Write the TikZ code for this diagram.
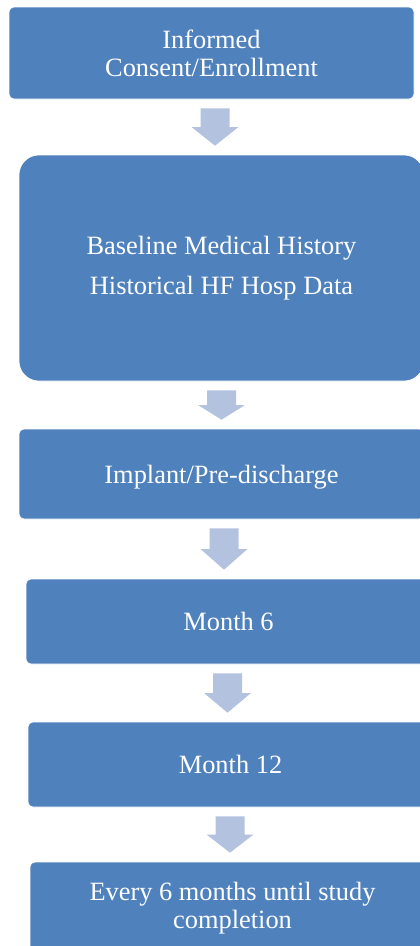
\documentclass[tikz,border=0pt]{standalone}
\usepackage{fontspec}
\setmainfont{Liberation Serif}
\usetikzlibrary{calc}
\definecolor{boxblue}{HTML}{4F81BD}
\definecolor{arrowblue}{HTML}{B3C3DF}
\newcommand{\blockarrow}[3]{%
  \fill[arrowfill] let \p1=(#1.south), \p2=(#2.north),
    \n1={\y1-9pt}, \n2={\y2+9pt}, \n3={(\y1+\y2)/2} in
    ({#3pt-14.5pt},\n1) -- ({#3pt+14.5pt},\n1) -- ({#3pt+14.5pt},\n3) --
    ({#3pt+23.5pt},\n3) -- ({#3pt},\n2) -- ({#3pt-23.5pt},\n3) --
    ({#3pt-14.5pt},\n3) -- cycle;}
\begin{document}
\begin{tikzpicture}[x=1pt,y=-1pt,
  stage/.style={fill=boxblue, draw=white, line width=0.6pt, rounded corners=5pt,
    text=white, minimum width=405pt, align=center, inner sep=0pt,
    font=\fontsize{26.4}{28}\selectfont},
  arrowfill/.style={fill=arrowblue}]
\useasboundingbox (0,0) rectangle (420,946);
\clip (0,0) rectangle (420,946);
\node[stage, minimum height=92pt] (b1) at (211.5,53) {Informed\\Consent/Enrollment};
\node[stage, minimum height=226pt, rounded corners=20pt,
  font=\fontsize{26.4}{40}\selectfont] (b2) at (221.5,268) {Baseline Medical History\\Historical HF Hosp Data};
\node[stage, minimum height=90pt, text depth=0pt] (b3) at (221.5,474) {Implant/Pre-discharge};
\node[stage, minimum height=85pt] (b4) at (228.5,621.5) {Month 6};
\node[stage, minimum height=85pt] (b5) at (230.5,764.5) {Month 12};
\node[stage, minimum height=92pt] (b6) at (232.5,908) {Every 6 months until study\\completion};
\blockarrow{b1}{b2}{215}
\blockarrow{b2}{b3}{221.5}
\blockarrow{b3}{b4}{224}
\blockarrow{b4}{b5}{227.5}
\blockarrow{b5}{b6}{230}
\end{tikzpicture}
\end{document}
